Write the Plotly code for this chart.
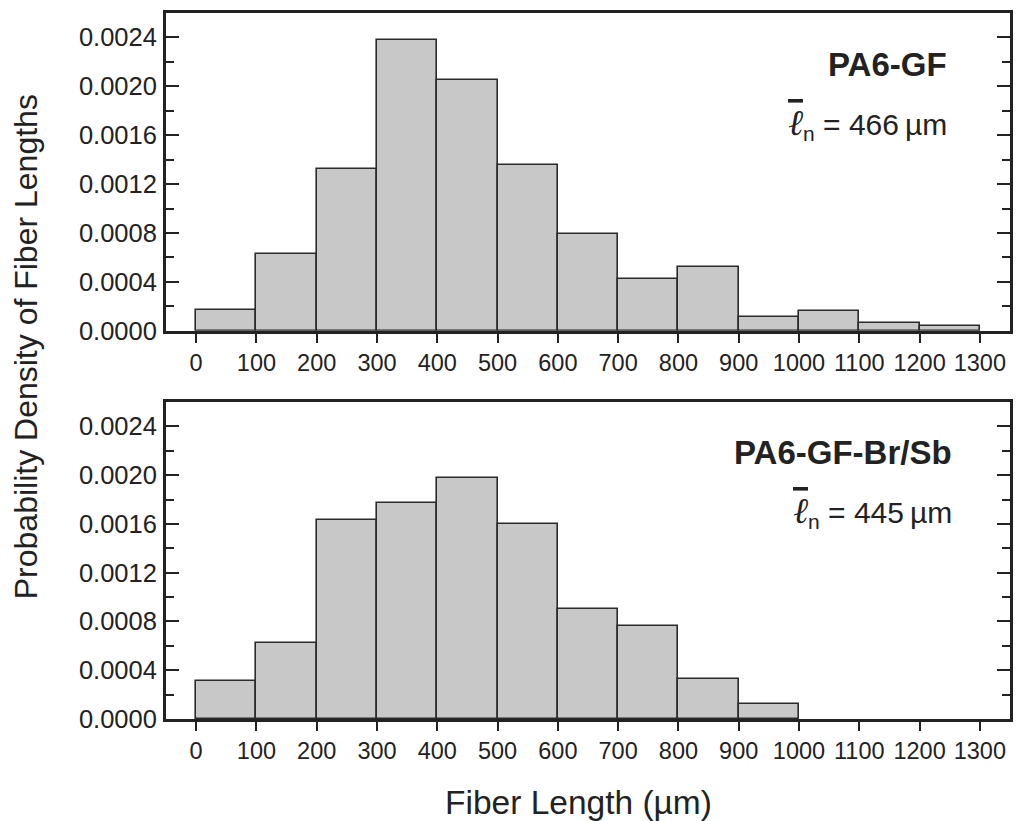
import plotly.graph_objects as go

# ---- data ----
bin_left = [0, 100, 200, 300, 400, 500, 600, 700, 800, 900, 1000, 1100, 1200]
bin_width = 100
density_pa6_gf = [0.00017, 0.00063, 0.00132, 0.00238, 0.00205, 0.00136, 0.00079,
                  0.00042, 0.00052, 0.00011, 0.00016, 0.00006, 0.00004]
density_pa6_gf_brsb = [0.00031, 0.00062, 0.00163, 0.00177, 0.00198, 0.00160, 0.00090,
                       0.00076, 0.00033, 0.00012, 0.0, 0.0, 0.0]
x_tick_vals = [0, 100, 200, 300, 400, 500, 600, 700, 800, 900, 1000, 1100, 1200, 1300]
y_tick_vals = [0.0, 0.0004, 0.0008, 0.0012, 0.0016, 0.0020, 0.0024]
y_tick_text = ["0.0000", "0.0004", "0.0008", "0.0012", "0.0016", "0.0020", "0.0024"]
labels = ["PA6-GF", "PA6-GF-Br/Sb"]
mean_lengths = [466, 445]

FONT = "Liberation Sans, Arial, Helvetica, sans-serif"
INK = "#222222"
W, H = 1016, 821
L, R, T, B = 166, 1013, 13, 719.5

def frac_y(p):
    return (B - p) / (B - T)

centers = [b + bin_width / 2 for b in bin_left]

fig = go.Figure()
for i, dens in enumerate([density_pa6_gf, density_pa6_gf_brsb]):
    sfx = "" if i == 0 else str(i + 1)
    fig.add_trace(go.Bar(
        x=centers, y=[v if v > 0 else None for v in dens], width=[bin_width] * len(centers),
        marker=dict(color="#c8c8c8", line=dict(color="#2b2b2b", width=1.6)),
        xaxis="x" + sfx, yaxis="y" + sfx, showlegend=False, hoverinfo="x+y",
    ))

xcommon = dict(range=[-50, 1350], tickvals=x_tick_vals, ticks="outside", ticklen=9,
               tickwidth=1.6, tickcolor=INK, showline=True, linewidth=3, linecolor=INK,
               mirror=True, showgrid=False, zeroline=False,
               tickfont=dict(family=FONT, size=23.5, color=INK))
ycommon = dict(range=[0, 0.0026], tickvals=y_tick_vals, ticktext=y_tick_text,
               ticks="inside", ticklen=13, tickwidth=1.6, tickcolor=INK,
               showline=True, linewidth=3, linecolor=INK, mirror="ticks",
               showgrid=False, zeroline=False, ticklabelstandoff=1,
               minor=dict(ticks="inside", ticklen=8, tickwidth=1.6, tickcolor=INK,
                          dtick=0.0002, tick0=0, showgrid=False),
               tickfont=dict(family=FONT, size=25.5, color=INK))

fig.update_layout(
    width=W, height=821,
    margin=dict(l=L, r=W - R, t=T, b=821 - B, pad=0),
    paper_bgcolor="white", plot_bgcolor="white",
    bargap=0,
    xaxis=dict(domain=[0, 1], anchor="y", **xcommon),
    yaxis=dict(domain=[frac_y(331), 1.0], anchor="x", **ycommon),
    xaxis2=dict(domain=[0, 1], anchor="y2", **xcommon),
    yaxis2=dict(domain=[0.0, frac_y(402.3)], anchor="x2", **ycommon),
)

panel_h = [331 - 13.3, B - 402.3]
name_x = [0.928, 0.934]
for i in range(2):
    sfx = "" if i == 0 else str(i + 1)
    ydom_name = 1 - 51 / panel_h[i]
    ydom_mean = 1 - 110 / panel_h[i]
    fig.add_annotation(xref="x" + sfx + " domain", yref="y" + sfx + " domain",
                       x=name_x[i], y=ydom_name, xanchor="right", yanchor="middle",
                       text="<b>" + labels[i] + "</b>", showarrow=False,
                       font=dict(family=FONT, size=33, color=INK))
    fig.add_annotation(xref="x" + sfx + " domain", yref="y" + sfx + " domain",
                       x=name_x[i], y=ydom_mean, xanchor="right", yanchor="middle",
                       text="<span style='font-family:DejaVu Serif;font-size:36px;"
                            "font-weight:lighter;text-decoration:overline'><i>\u2113</i></span>"
                            "<sub>n</sub> = " + str(mean_lengths[i]) + "\u2009\u00b5m",
                       showarrow=False, font=dict(family=FONT, size=30, color=INK))

# axis titles
fig.add_annotation(xref="paper", yref="paper", x=(579.5 - L) / (R - L), y=frac_y(803),
                   text="Fiber Length (\u00b5m)", showarrow=False, xanchor="center",
                   yanchor="middle", font=dict(family=FONT, size=33.5, color=INK))
fig.add_annotation(xref="paper", yref="paper", x=(25 - L) / (R - L), y=frac_y(347),
                   text="Probability Density of Fiber Lengths", showarrow=False,
                   textangle=-90, xanchor="center", yanchor="middle",
                   font=dict(family=FONT, size=32, color=INK))

fig.write_html("out.html")
